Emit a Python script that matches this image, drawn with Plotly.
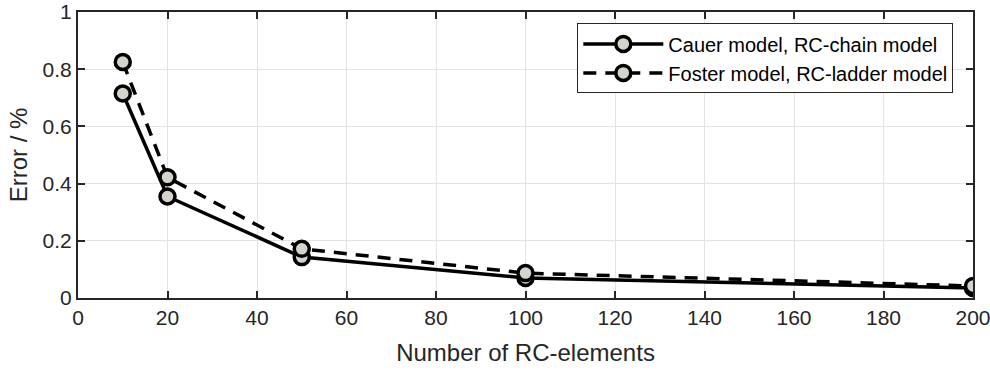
import plotly.graph_objects as go

n_elements = [10, 20, 50, 100, 200]
cauer_err = [0.715, 0.355, 0.143, 0.07, 0.035]
foster_err = [0.825, 0.422, 0.172, 0.087, 0.042]
x_ticks = [0, 20, 40, 60, 80, 100, 120, 140, 160, 180, 200]
y_ticks = [0, 0.2, 0.4, 0.6, 0.8, 1]

marker = dict(symbol="circle", size=15, color="#d6d3cc", line=dict(color="black", width=3.5))

fig = go.Figure()
fig.add_trace(go.Scatter(x=n_elements, y=cauer_err, mode="lines+markers",
                         name="Cauer model, RC-chain model",
                         line=dict(color="black", width=3.5), marker=marker))
fig.add_trace(go.Scatter(x=n_elements, y=foster_err, mode="lines+markers",
                         name="Foster model, RC-ladder model",
                         line=dict(color="black", width=3.5, dash="13px,9px"), marker=marker))

axis_common = dict(showline=True, linecolor="#262626", linewidth=2, mirror="ticks",
                   ticks="inside", ticklen=7, tickcolor="#262626", tickwidth=1.5,
                   showgrid=True, gridcolor="#e3e3e3", gridwidth=1, zeroline=False,
                   automargin=False, ticklabeloverflow="allow",
                   tickfont=dict(family="Liberation Sans, Arial", size=21, color="#262626"))

fig.update_layout(
    width=990, height=370,
    margin=dict(l=78, r=17, t=12, b=72),
    plot_bgcolor="white", paper_bgcolor="white",
    font=dict(family="Liberation Sans, Arial", color="#262626"),
    showlegend=True,
    legend=dict(x=0.978, y=0.96, xanchor="right", yanchor="top",
                bgcolor="white", bordercolor="#262626", borderwidth=1,
                font=dict(size=20, color="black"), itemwidth=80, tracegroupgap=0),
    xaxis=dict(range=[0, 200], tickvals=x_ticks,
               title=dict(text="Number of RC-elements", font=dict(size=24), standoff=16),
               **axis_common),
    yaxis=dict(range=[0, 1], tickvals=y_ticks, ticktext=["0", "0.2", "0.4", "0.6", "0.8", "1"],
               title=dict(text="Error / %", font=dict(size=24), standoff=8),
               **axis_common),
)

fig.write_html("out.html")
